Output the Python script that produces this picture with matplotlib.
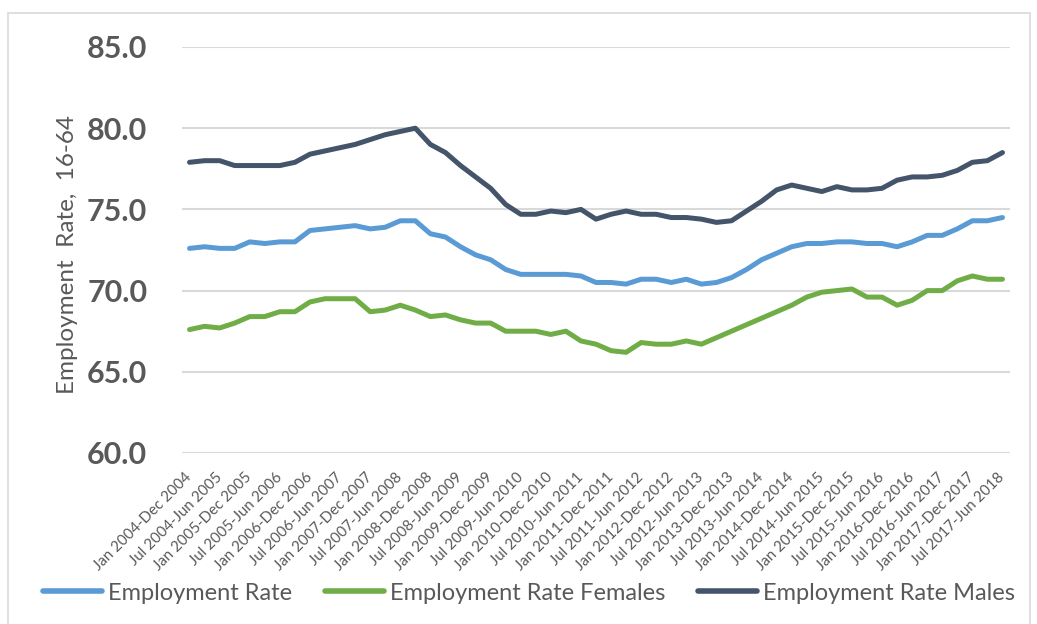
import numpy as np
import matplotlib
matplotlib.use("Agg")
import matplotlib.pyplot as plt
from matplotlib.patches import Rectangle

plt.rcParams['font.family'] = ['Lato', 'DejaVu Sans']

# periods (quarterly rolling years), every other one is labelled
periods = []
q_months = [("Jan", "Dec", 0), ("Apr", "Mar", 1), ("Jul", "Jun", 1), ("Oct", "Sep", 1)]
for year in range(2004, 2018):
    for start, end, add in q_months:
        periods.append(f"{start} {year}-{end} {year + add}")
periods = periods[:55]

rate_all = [72.6, 72.7, 72.6, 72.6, 73.0, 72.9, 73.0, 73.0, 73.7, 73.8,
            73.9, 74.0, 73.8, 73.9, 74.3, 74.3, 73.5, 73.3, 72.7, 72.2,
            71.9, 71.3, 71.0, 71.0, 71.0, 71.0, 70.9, 70.5, 70.5, 70.4,
            70.7, 70.7, 70.5, 70.7, 70.4, 70.5, 70.8, 71.3, 71.9, 72.3,
            72.7, 72.9, 72.9, 73.0, 73.0, 72.9, 72.9, 72.7, 73.0, 73.4,
            73.4, 73.8, 74.3, 74.3, 74.5]

rate_females = [67.6, 67.8, 67.7, 68.0, 68.4, 68.4, 68.7, 68.7, 69.3, 69.5,
                69.5, 69.5, 68.7, 68.8, 69.1, 68.8, 68.4, 68.5, 68.2, 68.0,
                68.0, 67.5, 67.5, 67.5, 67.3, 67.5, 66.9, 66.7, 66.3, 66.2,
                66.8, 66.7, 66.7, 66.9, 66.7, 67.1, 67.5, 67.9, 68.3, 68.7,
                69.1, 69.6, 69.9, 70.0, 70.1, 69.6, 69.6, 69.1, 69.4, 70.0,
                70.0, 70.6, 70.9, 70.7, 70.7]

rate_males = [77.9, 78.0, 78.0, 77.7, 77.7, 77.7, 77.7, 77.9, 78.4, 78.6,
              78.8, 79.0, 79.3, 79.6, 79.8, 80.0, 79.0, 78.5, 77.7, 77.0,
              76.3, 75.3, 74.7, 74.7, 74.9, 74.8, 75.0, 74.4, 74.7, 74.9,
              74.7, 74.7, 74.5, 74.5, 74.4, 74.2, 74.3, 74.9, 75.5, 76.2,
              76.5, 76.3, 76.1, 76.4, 76.2, 76.2, 76.3, 76.8, 77.0, 77.0,
              77.1, 77.4, 77.9, 78.0, 78.5]

yticks = [60.0, 65.0, 70.0, 75.0, 80.0, 85.0]

c_all = '#5B9BD5'
c_fem = '#70AD47'
c_male = '#44546A'
grey_txt = '#595959'

fig = plt.figure(figsize=(10.37, 6.24), dpi=100)
ax = fig.add_axes([182 / 1037, 1 - 453 / 624, 828 / 1037, 406 / 624])

x = np.arange(len(periods))
lw = 3.6
ax.plot(x, rate_all, color=c_all, lw=lw, solid_capstyle='round', label='Employment Rate')
ax.plot(x, rate_females, color=c_fem, lw=lw, solid_capstyle='round', label='Employment Rate Females')
ax.plot(x, rate_males, color=c_male, lw=lw, solid_capstyle='round', label='Employment Rate Males')

ax.set_xlim(-0.5, len(periods) - 0.5)
ax.set_ylim(60, 85)
ax.set_yticks(yticks)
ax.set_yticklabels([f"{v:.1f}" for v in yticks], fontsize=22, fontweight='bold', color=grey_txt)
ax.tick_params(axis='y', length=0, pad=25)

ax.set_xticks(x[::2])
ax.set_xticklabels(periods[::2], rotation=45, ha='right', va='center',
                   rotation_mode='anchor', fontsize=10.8, color=grey_txt)
ax.tick_params(axis='x', length=0, pad=16)

ax.grid(axis='y', color='#d9d9d9', lw=1.5)
ax.set_axisbelow(True)
for s in ax.spines.values():
    s.set_visible(False)

ax.set_ylabel('Employment  Rate,  16-64', fontsize=17.5, color=grey_txt)
ax.yaxis.set_label_coords(-0.126, 0.49)

leg = fig.legend(loc='center', bbox_to_anchor=(0.51, 1 - 593 / 624), ncol=3,
                 frameon=False, fontsize=17, handlelength=2.5, handletextpad=0.25,
                 columnspacing=1.4, labelcolor=grey_txt)
for h in leg.get_lines():
    h.set_linewidth(4)

fig.patches.append(Rectangle((8 / 1037, -0.05), 1022 / 1037, 1.05 - 13 / 624,
                             transform=fig.transFigure, fill=False,
                             edgecolor='#d9d9d9', lw=1.2))

fig.savefig('out.png', dpi=100)
